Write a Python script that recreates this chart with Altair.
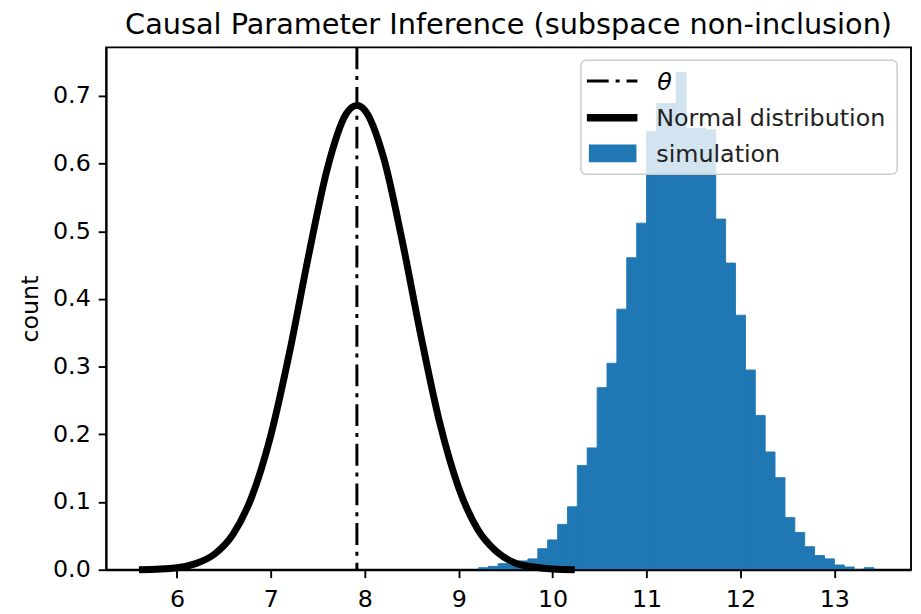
import altair as alt
import pandas as pd

# Histogram of the simulation (density), bin edges and heights
bin_edges = [9.210, 9.316, 9.421, 9.526, 9.632, 9.737, 9.842, 9.947, 10.053, 10.158,
             10.263, 10.368, 10.474, 10.579, 10.684, 10.789, 10.895, 11.000, 11.105, 11.211,
             11.316, 11.421, 11.526, 11.632, 11.737, 11.842, 11.947, 12.053, 12.158, 12.263,
             12.368, 12.474, 12.579, 12.684, 12.789, 12.895, 13.000, 13.105, 13.211, 13.316,
             13.421]
density = [0.003, 0.005, 0.009, 0.008, 0.013, 0.016, 0.031, 0.044, 0.067, 0.093,
           0.154, 0.180, 0.269, 0.305, 0.385, 0.461, 0.512, 0.647, 0.689, 0.689,
           0.735, 0.652, 0.652, 0.650, 0.518, 0.453, 0.376, 0.295, 0.228, 0.174,
           0.136, 0.077, 0.055, 0.034, 0.021, 0.016, 0.007, 0.004, 0.000, 0.003]

# Normal distribution curve
curve_x = [5.596, 6.0, 6.2, 6.4, 6.6, 6.8, 7.0, 7.2, 7.4, 7.6, 7.8, 7.916,
           8.0, 8.2, 8.4, 8.6, 8.8, 9.0, 9.2, 9.4, 9.6, 9.8, 10.0, 10.236]
curve_y = [0.000, 0.003, 0.009, 0.023, 0.053, 0.109, 0.199, 0.322, 0.463, 0.592, 0.673, 0.686,
           0.679, 0.609, 0.485, 0.344, 0.216, 0.121, 0.060, 0.027, 0.010, 0.004, 0.001, 0.000]

theta_value = [7.916]

x_ticks = [6, 7, 8, 9, 10, 11, 12, 13]
y_ticks = [0.0, 0.1, 0.2, 0.3, 0.4, 0.5, 0.6, 0.7]

title_text = "Causal Parameter Inference (subspace non-inclusion)"
legend_labels = ["θ", "Normal distribution", "simulation"]

hist_df = pd.DataFrame({
    "left": bin_edges[:-1],
    "right": bin_edges[1:],
    "density": density,
})
hist_df["base"] = 0.0
curve_df = pd.DataFrame({"x": curve_x, "y": curve_y})
theta_df = pd.DataFrame({"theta": theta_value})
one = pd.DataFrame({"k": [0]})

FONT = "DejaVu Sans"
BLUE = "#1f77b4"

xs = alt.Scale(domain=[5.246, 13.816], nice=False, zero=False)
ys = alt.Scale(domain=[0, 0.7718], nice=False, zero=False)

x_axis = alt.Axis(values=x_ticks, format="d", title=None, zindex=1, labelPadding=10)
y_axis = alt.Axis(values=y_ticks, format=".1f", title="count", zindex=1,
                  titlePadding=10, labelPadding=8)

hist = alt.Chart(hist_df).mark_rect(color=BLUE, stroke=BLUE, strokeWidth=0.9).encode(
    x=alt.X("left:Q", scale=xs, axis=x_axis),
    x2="right:Q",
    y=alt.Y("density:Q", scale=ys, axis=y_axis),
    y2="base:Q",
)

rule = alt.Chart(theta_df).mark_rule(
    color="black", strokeWidth=3, strokeDash=[22, 7, 4, 7]
).encode(x=alt.X("theta:Q", scale=xs))

curve = alt.Chart(curve_df).mark_line(
    color="black", strokeWidth=7, interpolate="monotone", strokeCap="butt"
).encode(
    x=alt.X("x:Q", scale=xs),
    y=alt.Y("y:Q", scale=ys),
)

# Title drawn as a text mark centred over the plot area
title_mark = alt.Chart(one).mark_text(
    text=title_text, align="center", baseline="alphabetic", fontSize=29,
    font=FONT, color="black"
).encode(x=alt.value(406), y=alt.value(-13))

# Legend (upper right, matplotlib style)
leg_box = alt.Chart(one).mark_rect(
    fill="white", fillOpacity=0.8, stroke="#cccccc", strokeWidth=1.5, cornerRadius=5
).encode(x=alt.value(479), x2=alt.value(798), y=alt.value(13), y2=alt.value(128))

leg_theta_line = alt.Chart(one).mark_rule(
    color="black", strokeWidth=3, strokeDash=[22, 7, 4, 7]
).encode(x=alt.value(485), x2=alt.value(536), y=alt.value(34))

leg_norm_line = alt.Chart(one).mark_rule(
    color="black", strokeWidth=7.5
).encode(x=alt.value(485), x2=alt.value(536), y=alt.value(71))

leg_sim_rect = alt.Chart(one).mark_rect(color=BLUE).encode(
    x=alt.value(487), x2=alt.value(535), y=alt.value(98), y2=alt.value(116)
)

leg_t1 = alt.Chart(one).mark_text(
    text=legend_labels[0], align="left", baseline="alphabetic", fontSize=24,
    font=FONT, fontStyle="italic", color="black"
).encode(x=alt.value(556), y=alt.value(43))
leg_t2 = alt.Chart(one).mark_text(
    text=legend_labels[1], align="left", baseline="alphabetic", fontSize=24,
    font=FONT, color="#222222"
).encode(x=alt.value(555), y=alt.value(79))
leg_t3 = alt.Chart(one).mark_text(
    text=legend_labels[2], align="left", baseline="alphabetic", fontSize=24,
    font=FONT, color="#222222"
).encode(x=alt.value(555), y=alt.value(116))

chart = alt.layer(
    hist, rule, curve, title_mark,
    leg_box, leg_theta_line, leg_norm_line, leg_sim_rect, leg_t1, leg_t2, leg_t3,
).properties(
    width=812,
    height=527,
    autosize=alt.AutoSizeParams(type="none"),
    padding={"left": 99, "top": 37, "right": 2, "bottom": 42},
).configure_view(
    stroke="black", strokeWidth=1.9
).configure_axis(
    domain=True, domainColor="black", domainWidth=1.9,
    ticks=True, tickColor="black", tickWidth=1.9, tickSize=8,
    labelFont=FONT, labelFontSize=24, labelColor="black",
    grid=False,
    titleFont=FONT, titleFontSize=24, titleFontWeight="normal", titleColor="black",
)

chart.save("out.html", embed_options={"renderer": "svg", "actions": False})
